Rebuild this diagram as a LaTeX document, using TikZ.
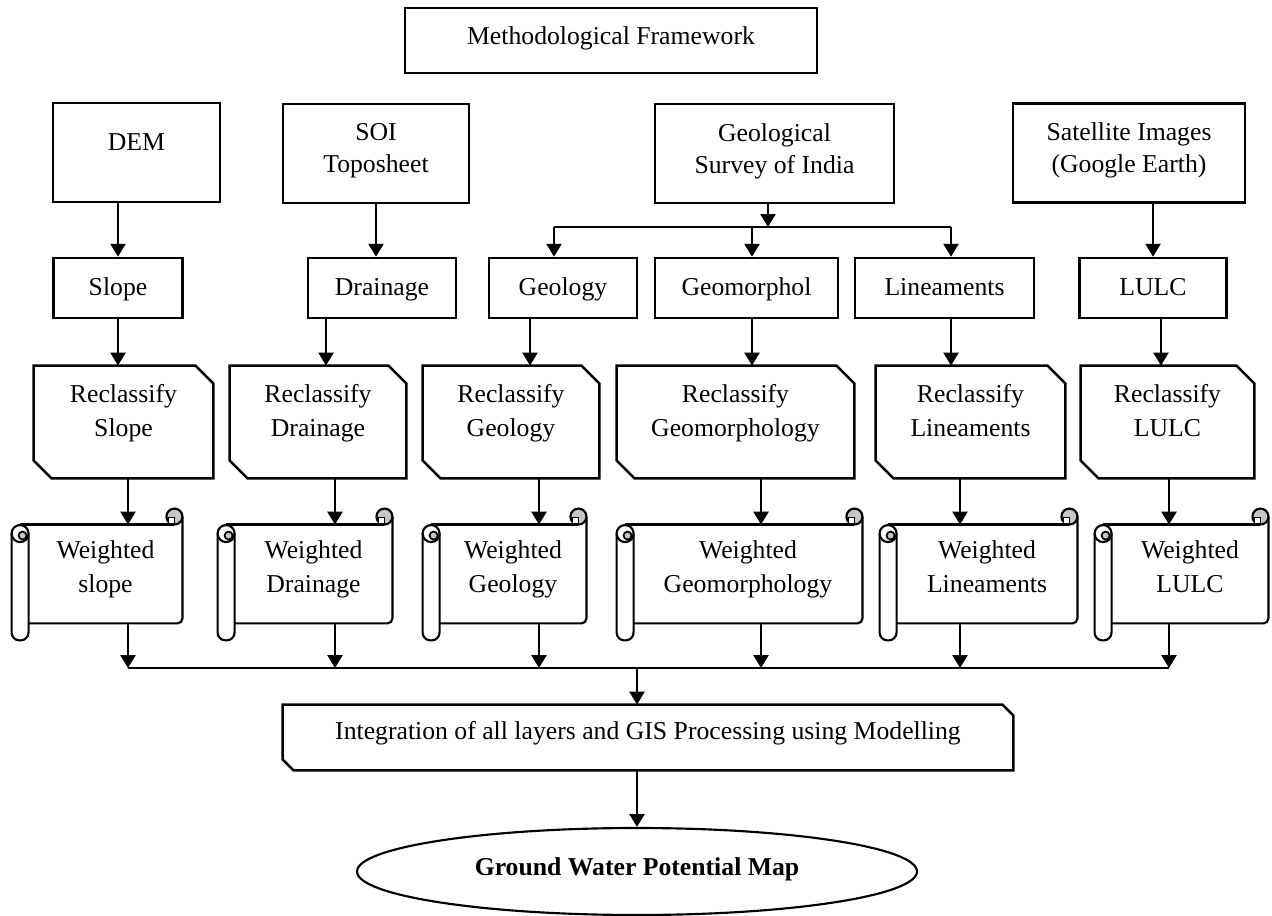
\documentclass[tikz,border=0pt]{standalone}
\usepackage{fontspec}
\setmainfont{Liberation Serif}
\usetikzlibrary{arrows.meta,calc,shapes.geometric}
\newlength{\unitpx}
\setlength{\unitpx}{0.0164cm}

\begin{document}
\begin{tikzpicture}[
  x=0.0164cm, y=-0.0164cm,
  font=\fontsize{12}{15}\selectfont,
  box/.style={draw, line width=1.2pt, align=center, inner sep=0pt},
  source/.style={box, minimum height=99\unitpx, text depth=4.9pt},
  layer/.style={box, minimum height=60\unitpx, text height=8.2pt, text depth=1.3pt},
  card/.style={align=center, inner sep=0pt, minimum height=112\unitpx, text depth=10.5pt, font=\fontsize{12}{15.8}\selectfont},
  scroll/.style={align=center, inner sep=0pt, minimum height=98\unitpx, text depth=7.3pt, font=\fontsize{12}{15.8}\selectfont},
  arrow/.style={-{Triangle[width=7pt,length=6pt]}, line width=1pt},
  bus/.style={line width=0.6pt}
]
\useasboundingbox (0,0) rectangle (1272,916);

% title and data sources
\node[box, minimum width=412\unitpx, minimum height=65\unitpx, text depth=4.9pt] (mf) at (611,40.5) {Methodological Framework};
\node[box, minimum width=167\unitpx, minimum height=99\unitpx, text depth=9.3pt] (dem) at (136.5,152.5) {DEM};
\node[source, minimum width=186\unitpx] (soi) at (376,153.5) {SOI\\Toposheet};
\node[source, minimum width=239\unitpx] (gsi) at (774.5,153.5) {Geological\\Survey of India};
\node[source, minimum width=232\unitpx] (sat) at (1129,153) {Satellite Images\\(Google Earth)};

% thematic layers
\node[layer, minimum width=129\unitpx] (slope) at (118,288) {Slope};
\node[layer, minimum width=148\unitpx] (drain) at (382,288) {Drainage};
\node[layer, minimum width=148\unitpx] (geol) at (563,288) {Geology};
\node[layer, minimum width=183\unitpx] (geom) at (746.5,288) {Geomorphol};
\node[layer, minimum width=179\unitpx] (linea) at (944.5,288) {Lineaments};
\node[layer, minimum width=147\unitpx] (lulc) at (1153,288) {LULC};

% reclassify cards
\node[card, minimum width=179\unitpx] (rc1) at (123.5,422) {Reclassify\\Slope};
\node[card, minimum width=176\unitpx] (rc2) at (318,422) {Reclassify\\Drainage};
\node[card, minimum width=176\unitpx] (rc3) at (511,422) {Reclassify\\Geology};
\node[card, minimum width=237\unitpx] (rc4) at (735.5,422) {Reclassify\\Geomorphology};
\node[card, minimum width=189\unitpx] (rc5) at (970.5,422) {Reclassify\\Lineaments};
\node[card, minimum width=173\unitpx] (rc6) at (1167.5,422) {Reclassify\\LULC};

% weighted scrolls
\node[scroll, minimum width=153\unitpx] (ws1) at (105.5,574) {Weighted\\slope};
\node[scroll, minimum width=157\unitpx] (ws2) at (313.5,574) {Weighted\\Drainage};
\node[scroll, minimum width=146\unitpx] (ws3) at (513,574) {Weighted\\Geology};
\node[scroll, minimum width=228\unitpx] (ws4) at (748,574) {Weighted\\Geomorphology};
\node[scroll, minimum width=180\unitpx] (ws5) at (987,574) {Weighted\\Lineaments};
\node[scroll, minimum width=156\unitpx] (ws6) at (1190,574) {Weighted\\LULC};

% integration and result
\node[card, minimum width=730\unitpx, minimum height=65\unitpx, text depth=6.8pt] (integ) at (648,737.5) {Integration of all layers and GIS Processing using Modelling};
\node[ellipse, draw, line width=1pt, minimum width=560\unitpx, minimum height=87\unitpx, inner sep=0pt, text depth=4.5pt, font=\fontsize{12}{15}\selectfont\bfseries] (goal) at (637,871.5) {Ground Water Potential Map};

% branch and bus points
\coordinate (b3) at (554,227);
\coordinate (b4) at (752,227);
\coordinate (b5) at (951,227);
\coordinate (j1) at (128,668);
\coordinate (j2) at (335,668);
\coordinate (j3) at (539,668);
\coordinate (j4) at (761,668);
\coordinate (j5) at (960,668);
\coordinate (j6) at (1169,668);

% chamfered outlines
\foreach \n/\s in {rc1/18, rc2/18, rc3/18, rc4/18, rc5/18, rc6/18, integ/11}
  \draw[line width=1.2pt] (\n.north west) -- ($(\n.north east)+(-\s,0)$) -- ($(\n.north east)+(0,\s)$)
    -- (\n.south east) -- ($(\n.south west)+(\s,0)$) -- ($(\n.south west)+(0,-\s)$) -- cycle;

% scroll outlines
\foreach \i in {1,...,6} {
  \filldraw[fill=gray!45, line width=1pt] ($(ws\i.north east)+(-8,-8)$) circle[radius=8\unitpx];
  \filldraw[fill=white, line width=0.8pt] ($(ws\i.north east)+(-14,-7)$) rectangle ($(ws\i.north east)+(-8,0)$);
  \draw[line width=1pt] ($(ws\i.north west)+(-8.5,0)$) -- ($(ws\i.north east)+(-8,0)$);
  \draw[line width=1pt, rounded corners=5\unitpx] ($(ws\i.north east)+(0,-8)$) -- (ws\i.south east) -- (ws\i.south west);
  \draw[line width=1pt, fill=white, rounded corners=8\unitpx] ($(ws\i.north west)+(-17,9)$) -- ($(ws\i.south west)+(-17,17)$)
    -- ($(ws\i.south west)+(0,17)$) -- ($(ws\i.north west)+(0,9)$);
  \filldraw[fill=white, line width=1pt] ($(ws\i.north west)+(-8.5,9)$) circle[radius=8.5\unitpx];
  \filldraw[fill=gray!45, line width=0.8pt] ($(ws\i.north west)+(-6,11)$) circle[radius=4\unitpx];
}

% sources to layers
\draw[arrow] (dem.south -| slope) -- (slope.north);
\draw[arrow] (soi.south) -- (soi.south |- drain.north);
\draw[arrow] ([xshift=-6.5\unitpx]gsi.south) -- ([xshift=-6.5\unitpx]gsi.south |- b4);
\draw[bus] (b3) -- (b5);
\foreach \c/\n in {b3/geol, b4/geom, b5/linea}
  \draw[arrow] (\c) -- (\c |- \n.north);
\draw[arrow] (sat.south -| lulc) -- (lulc.north);

% layers to cards
\draw[arrow] (slope.south) -- (slope.south |- rc1.north);
\draw[arrow] ([xshift=8\unitpx]rc2.north |- drain.south) -- ([xshift=8\unitpx]rc2.north);
\draw[arrow] ([xshift=19\unitpx]rc3.north |- geol.south) -- ([xshift=19\unitpx]rc3.north);
\draw[arrow] (geom.south -| b4) -- (rc4.north -| b4);
\draw[arrow] (linea.south -| b5) -- (rc5.north -| b5);
\draw[arrow] ([xshift=-6.5\unitpx]rc6.north |- lulc.south) -- ([xshift=-6.5\unitpx]rc6.north);

% cards to scrolls to bus
\foreach \i in {1,...,6} {
  \draw[arrow] (rc\i.south -| j\i) -- (ws\i.north -| j\i);
  \draw[arrow] (ws\i.south -| j\i) -- (j\i);
}
\draw[bus] (j1) -- (j6);
\draw[arrow] (j1 -| goal) -- (integ.north -| goal);
\draw[arrow] (integ.south -| goal) -- (goal.north);
\end{tikzpicture}
\end{document}
